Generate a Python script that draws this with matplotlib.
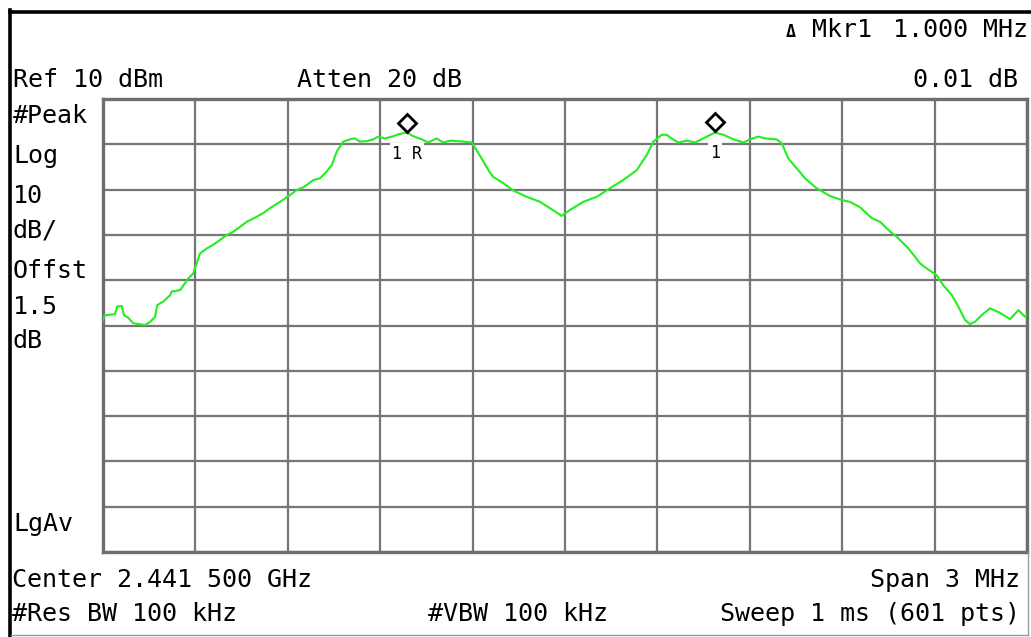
import numpy as np
import matplotlib
matplotlib.use("Agg")
import matplotlib.pyplot as plt
from matplotlib.transforms import ScaledTranslation

# trace: offset from centre (MHz) and level (dBm)
freq_mhz = [-1.500, -1.497, -1.488, -1.461, -1.454, -1.439, -1.432, -1.418, -1.402, -1.364,
            -1.347, -1.331, -1.324, -1.304, -1.282, -1.277, -1.250, -1.234, -1.223, -1.207,
            -1.196, -1.185, -1.163, -1.136, -1.098, -1.077, -1.055, -1.033, -1.001, -0.980,
            -0.958, -0.925, -0.893, -0.871, -0.850, -0.839, -0.817, -0.795, -0.774, -0.757,
            -0.741, -0.720, -0.698, -0.682, -0.666, -0.644, -0.622, -0.606, -0.584, -0.557,
            -0.536, -0.514, -0.493, -0.465, -0.444, -0.417, -0.395, -0.373, -0.330, -0.303,
            -0.287, -0.265, -0.246, -0.233, -0.200, -0.168, -0.124, -0.081, -0.049, -0.011,
            0.016, 0.059, 0.103, 0.146, 0.189, 0.233, 0.265, 0.287, 0.314, 0.330,
            0.346, 0.368, 0.395, 0.422, 0.449, 0.487, 0.514, 0.547, 0.579, 0.601,
            0.628, 0.649, 0.687, 0.704, 0.725, 0.747, 0.761, 0.779, 0.817, 0.860,
            0.898, 0.925, 0.958, 0.996, 1.023, 1.056, 1.077, 1.115, 1.136, 1.153,
            1.174, 1.207, 1.228, 1.256, 1.277, 1.299, 1.315, 1.331, 1.353, 1.380,
            1.412, 1.445, 1.472, 1.494, 1.500]
level_dbm = [-38.8, -37.9, -37.7, -37.5, -35.8, -35.7, -37.7, -38.3, -39.5, -39.9,
             -39.2, -38.1, -35.5, -34.7, -33.3, -32.5, -32.2, -30.7, -29.6, -28.5,
             -26.3, -24.1, -23.0, -21.9, -20.0, -19.3, -18.2, -17.1, -16.0, -15.2,
             -14.1, -12.7, -11.2, -10.1, -9.5, -9.0, -7.9, -7.5, -6.0, -4.6,
             -1.6, 0.6, 1.1, 1.3, 0.6, 0.7, 1.1, 1.7, 1.3, 1.8,
             2.3, 2.6, 1.8, 1.1, 0.4, 1.3, 0.4, 0.8, 0.6, 0.4,
             -1.3, -3.8, -6.0, -7.2, -8.6, -10.2, -11.6, -12.7, -14.1, -15.8,
             -14.5, -12.7, -11.6, -9.7, -7.9, -5.7, -2.4, 0.6, 2.1, 2.1,
             1.3, 0.4, 0.8, 0.4, 1.3, 2.6, 2.1, 1.1, 0.4, 1.1,
             1.7, 1.3, 1.1, 0.2, -3.1, -4.9, -6.0, -7.5, -9.7, -11.4,
             -12.3, -12.7, -13.9, -16.3, -17.1, -19.3, -20.4, -23.0, -24.8, -26.3,
             -27.4, -28.9, -31.1, -33.3, -35.8, -38.8, -39.7, -39.2, -37.7, -36.2,
             -37.2, -38.6, -36.6, -38.1, -37.7]

marker_freq = [-0.514, 0.487]
marker_level = [2.6, 2.61]
marker_names = ["1 R", "1"]

ref_level = 10
db_per_div = 10
span_mhz = 3

W, H = 1031, 637
fig = plt.figure(figsize=(W / 100, H / 100), dpi=100)
fig.patch.set_facecolor("white")

ax = fig.add_axes([103 / W, 1 - 552 / H, 924 / W, 453 / H])
ax.plot(freq_mhz, level_dbm, color="#22ee22", lw=1.5, zorder=3)
ax.set_xlim(-span_mhz / 2, span_mhz / 2)
ax.set_ylim(ref_level - 10 * db_per_div, ref_level)
ax.set_xticks(np.linspace(-span_mhz / 2, span_mhz / 2, 11))
ax.set_yticks(np.linspace(ref_level - 10 * db_per_div, ref_level, 11))
ax.grid(True, color="#767676", lw=1.6)
ax.tick_params(length=0, labelbottom=False, labelleft=False)
for s in ax.spines.values():
    s.set_color("#6e6e6e")
    s.set_linewidth(2.4)

# marker diamonds sit just above the peak
up = ax.transData + ScaledTranslation(0, 0.10, fig.dpi_scale_trans)
ax.plot(marker_freq, marker_level, ls="none", marker="D", ms=9.5, mfc="white",
        mec="black", mew=2, transform=up, zorder=5, clip_on=False)
for f, lv, name in zip(marker_freq, marker_level, marker_names):
    ax.annotate(name, (f, lv), xytext=(0, -12), textcoords="offset pixels",
                ha="center", va="top", fontsize=12, family="DejaVu Sans Mono",
                bbox=dict(fc="white", ec="none", pad=1.5), zorder=4)

def put(x, y, s, ha="left", size=18, **kw):
    fig.text(x / W, 1 - y / H, s, ha=ha, va="baseline", fontsize=size,
             family="DejaVu Sans Mono", **kw)

put(1028, 37, "1.000 MHz", ha="right")
put(812, 37, "Mkr1")
put(791, 37, "Δ", ha="center", size=12, weight="bold")
put(13, 87, "Ref %d dBm" % ref_level)
put(297, 87, "Atten 20 dB")
put(1018, 87, "0.01 dB", ha="right")

left_labels = ["#Peak", "Log", "%d" % db_per_div, "dB/", "Offst", "1.5", "dB", "LgAv"]
left_y = [123, 163, 203, 238, 278, 314, 348, 531]
for s, y in zip(left_labels, left_y):
    put(13, y, s)

put(12, 587, "Center 2.441 500 GHz")
put(1020, 587, "Span %d MHz" % span_mhz, ha="right")
put(12, 621, "#Res BW 100 kHz")
put(428, 621, "#VBW 100 kHz")
put(1020, 621, "Sweep 1 ms (601 pts)", ha="right")

# instrument frame
fig.add_artist(plt.Line2D([9.5 / W, 9.5 / W], [0, 1 - 10 / H], color="black", lw=2.6))
fig.add_artist(plt.Line2D([9.5 / W, 1], [1 - 11.5 / H, 1 - 11.5 / H], color="black", lw=2.6))
fig.add_artist(plt.Line2D([11 / W, 1028 / W], [1 - 635 / H, 1 - 635 / H], color="#9a9a9a", lw=1))
fig.add_artist(plt.Line2D([1028 / W, 1028 / W], [1 - 635 / H, 1 - 552 / H], color="#9a9a9a", lw=1))

fig.savefig("out.png", dpi=100)
